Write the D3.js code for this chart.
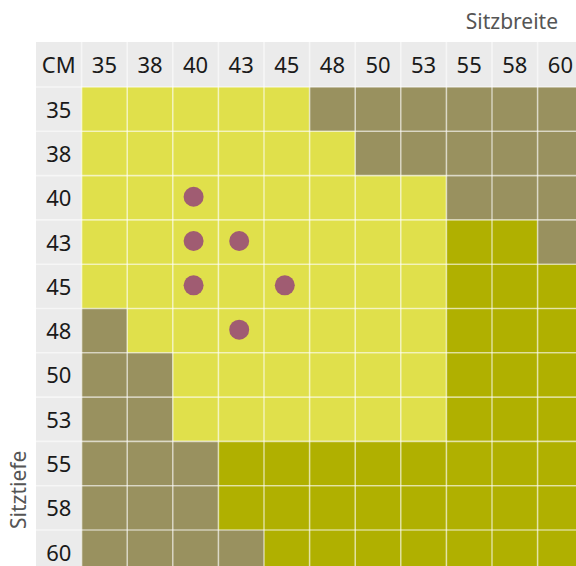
<!DOCTYPE html>
<html>
<head>
<meta charset="utf-8">
<script src="https://cdn.jsdelivr.net/npm/d3@7"></script>
<style>
  body { margin: 0; background: #fff; overflow: hidden; }
  svg { display: block; font-family: "Noto Sans", sans-serif; }
</style>
</head>
<body>
<div id="chart-area"></div>
<script>
// Sitzbreite (columns) and Sitztiefe (rows), in cm
var widths = [35, 38, 40, 43, 45, 48, 50, 53, 55, 58, 60];
var depths = [35, 38, 40, 43, 45, 48, 50, 53, 55, 58, 60];

// cell class per row (depth), one letter per width: L = fits, G = no, D = alternative
var cellRows = [
    "LLLLLGGGGGG",
    "LLLLLLGGGGG",
    "LLLLLLLLGGG",
    "LLLLLLLLDDG",
    "LLLLLLLLDDD",
    "GLLLLLLLDDD",
    "GGLLLLLLDDD",
    "GGLLLLLLDDD",
    "GGGDDDDDDDD",
    "GGGDDDDDDDD",
    "GGGGDDDDDDD"
];

// marked combinations [depth, width]
var dots = [[40, 40], [43, 40], [43, 43], [45, 40], [45, 45], [48, 43]];

var colors = { L: "#e0e04b", G: "#99915f", D: "#b0b000" };

var W = 576, H = 566;
var gridLeft = 36, gridTop = 42, headH = 45, cellW = 45.6, cellH = 44.3;

var svg = d3.select("#chart-area")
    .append("svg")
    .attr("width", W)
    .attr("height", H);

var x = d3.scaleBand()
    .domain(["CM"].concat(widths))
    .range([gridLeft, gridLeft + cellW * (widths.length + 1)]);
var y = d3.scaleBand()
    .domain(depths)
    .range([gridTop + headH, gridTop + headH + cellH * depths.length]);

// header backgrounds
svg.append("rect")
    .attr("x", gridLeft).attr("y", gridTop)
    .attr("width", W - gridLeft)
    .attr("height", headH)
    .attr("fill", "#ebebeb");
svg.append("rect")
    .attr("x", gridLeft).attr("y", gridTop)
    .attr("width", x.bandwidth())
    .attr("height", H - gridTop)
    .attr("fill", "#ebebeb");

// cells
var cells = [];
depths.forEach(function(d, i){
    widths.forEach(function(w, j){
        cells.push({ depth: d, width: w, c: cellRows[i][j] });
    });
});

svg.selectAll(".cell").data(cells)
    .enter().append("rect")
    .attr("class", "cell")
    .attr("x", function(d){ return x(d.width); })
    .attr("y", function(d){ return y(d.depth); })
    .attr("width", x.bandwidth())
    .attr("height", y.bandwidth())
    .attr("fill", function(d){ return colors[d.c]; });

// grid lines
var gx = widths.map(function(v){ return x(v); });
var gy = depths.map(function(v){ return y(v); });
svg.selectAll(".vline").data(gx)
    .enter().append("line")
    .attr("x1", function(d){ return d; }).attr("x2", function(d){ return d; })
    .attr("y1", gridTop).attr("y2", H)
    .attr("stroke", "#fff").attr("stroke-opacity", 0.55).attr("stroke-width", 1.6);
svg.selectAll(".hline").data(gy)
    .enter().append("line")
    .attr("y1", function(d){ return d; }).attr("y2", function(d){ return d; })
    .attr("x1", gridLeft).attr("x2", W)
    .attr("stroke", "#fff").attr("stroke-opacity", 0.55).attr("stroke-width", 1.6);

// header labels
svg.selectAll(".colLabel").data(["CM"].concat(widths))
    .enter().append("text")
    .attr("x", function(d){ return x(d) + x.bandwidth() / 2; })
    .attr("y", gridTop + headH / 2 + 8.5)
    .attr("text-anchor", "middle")
    .attr("font-size", "22px")
    .attr("fill", "#1a1a1a")
    .text(function(d){ return d; });
svg.selectAll(".rowLabel").data(depths)
    .enter().append("text")
    .attr("x", x("CM") + x.bandwidth() / 2)
    .attr("y", function(d){ return y(d) + y.bandwidth() / 2 + 8.5; })
    .attr("text-anchor", "middle")
    .attr("font-size", "22px")
    .attr("fill", "#1a1a1a")
    .text(function(d){ return d; });

// dots
svg.selectAll(".dot").data(dots)
    .enter().append("circle")
    .attr("class", "dot")
    .attr("cx", function(d){ return x(d[1]) + x.bandwidth() / 2 - 2; })
    .attr("cy", function(d){ return y(d[0]) + y.bandwidth() / 2 - 1; })
    .attr("r", 10)
    .attr("fill", "#a05c72");

// axis titles
svg.append("text")
    .attr("x", 558)
    .attr("y", 29)
    .attr("text-anchor", "end")
    .attr("font-size", "21px")
    .attr("fill", "#555")
    .text("Sitzbreite");
svg.append("text")
    .attr("transform", "translate(26,529) rotate(-90)")
    .attr("text-anchor", "start")
    .attr("font-size", "21px")
    .attr("fill", "#555")
    .text("Sitztiefe");
</script>
</body>
</html>
